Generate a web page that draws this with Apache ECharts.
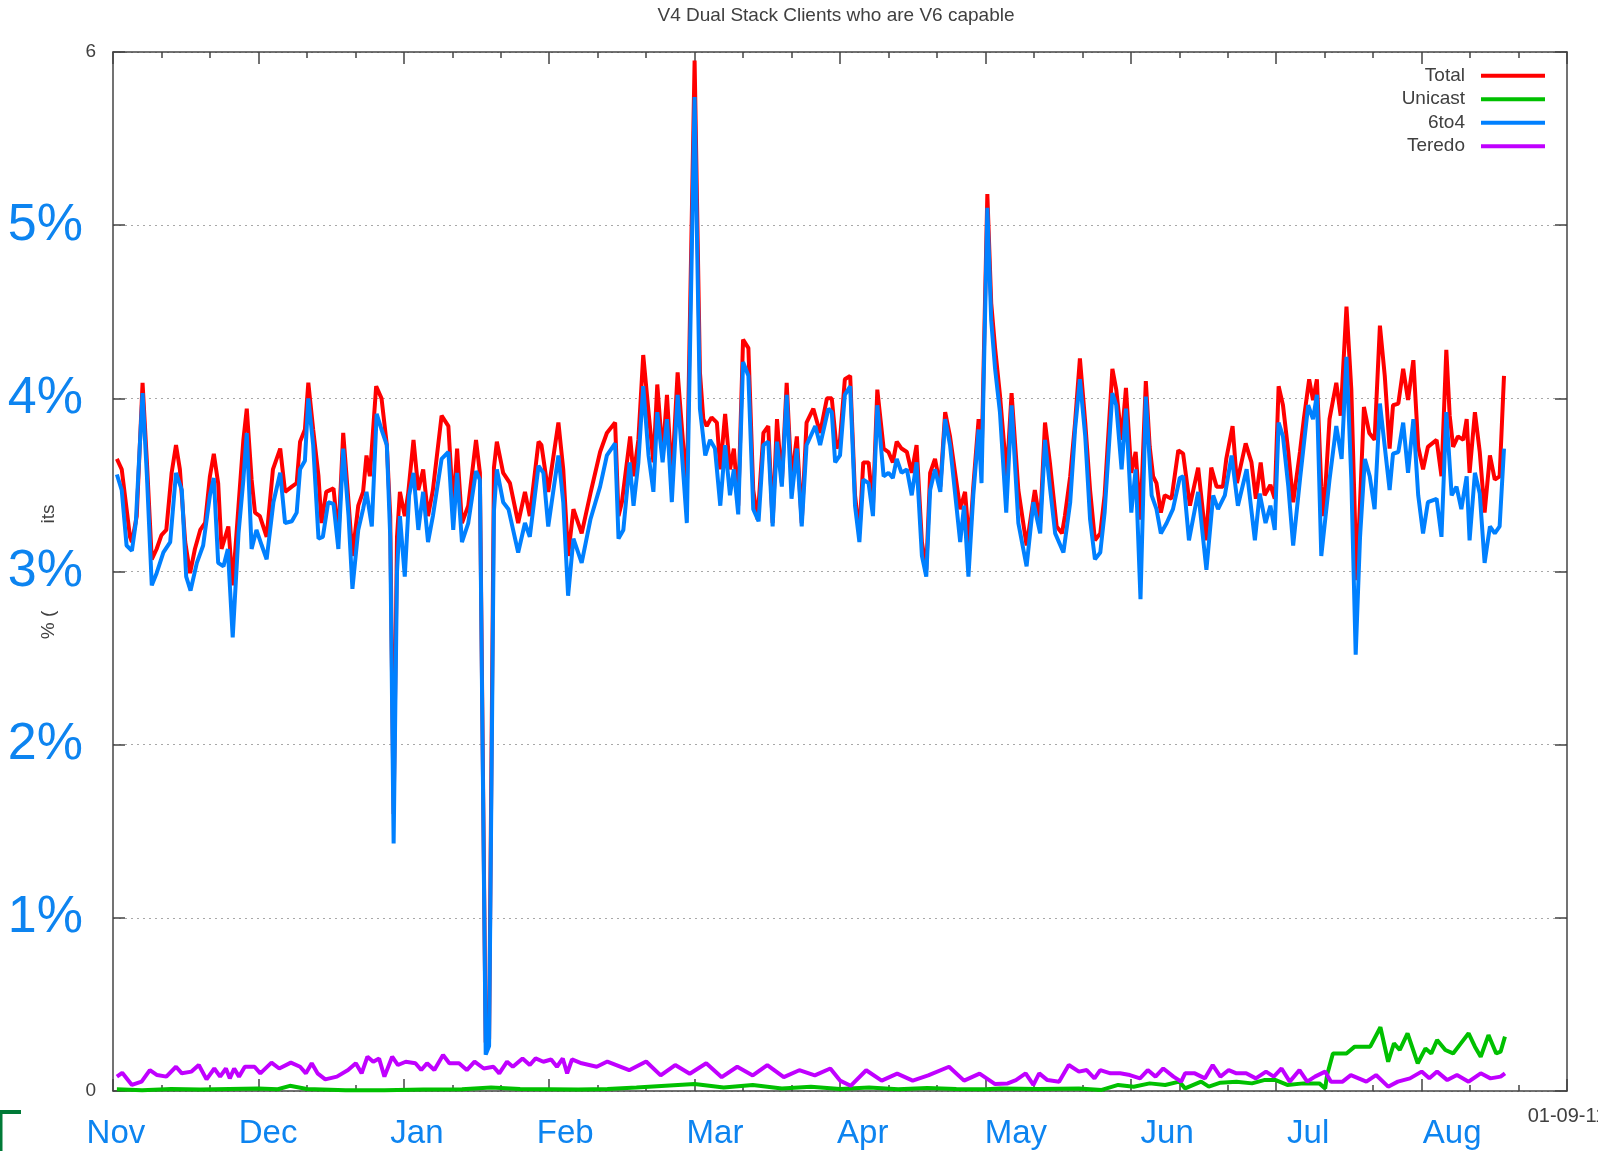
<!DOCTYPE html>
<html lang="en">
<head>
    <meta charset="utf-8">
    <title>V4 Dual Stack Clients who are V6 capable</title>
    <script type="text/javascript" src="https://cdn.jsdelivr.net/npm/echarts@6/dist/echarts.min.js"></script>
    <style type="text/css">
        html, body {
            margin: 0;
            padding: 0;
            background: #ffffff;
        }

        #main {
            width: 1618px;
            height: 1151px;
        }
    </style>
</head>
<body>
<div id="main"></div>
<script type="text/javascript">
    // x = days since start of the plot (axis runs 0..300), y = percent of clients
    var titleText = "V4 Dual Stack Clients who are V6 capable";
    var seriesNames = ["Total", "Unicast", "6to4", "Teredo"];
    var monthNames = ["Nov", "Dec", "Jan", "Feb", "Mar", "Apr", "May", "Jun", "Jul", "Aug"];
    var monthDays = [0.6, 32, 62.7, 93.3, 124.2, 154.7, 186.3, 217.5, 246.6, 276.3];
    var endLabel = "01-09-11";
    var endDay = 300;

    var total = [[0.8, 3.65], [1.8, 3.59], [3.5, 3.20], [3.9, 3.17], [4.9, 3.32], [6.1, 4.09], [7, 3.63], [8, 3.07], [9, 3.13], [10, 3.21], [11, 3.24], [12.1, 3.57], [13, 3.73], [13.8, 3.59], [14.9, 3.17], [15.9, 2.99], [16.9, 3.13], [18, 3.24], [19, 3.28], [20, 3.55], [20.8, 3.68], [21.7, 3.51], [22.4, 3.13], [23.8, 3.26], [24.7, 2.92], [25.9, 3.38], [26.9, 3.76], [27.6, 3.94], [28.6, 3.53], [29.3, 3.34], [30.3, 3.32], [31.7, 3.20], [33, 3.59], [34.5, 3.71], [35.5, 3.46], [36.9, 3.49], [37.9, 3.51], [38.6, 3.75], [39.6, 3.82], [40.3, 4.09], [41.3, 3.82], [42.4, 3.55], [43, 3.28], [44, 3.46], [45.5, 3.48], [46.5, 3.20], [47.5, 3.80], [48.6, 3.40], [49.4, 3.09], [50.6, 3.38], [51.6, 3.46], [52.3, 3.67], [53, 3.55], [54.3, 4.07], [55.4, 4.00], [56.5, 3.73], [57.2, 3.32], [57.9, 1.60], [58.6, 3.20], [59.2, 3.46], [60.2, 3.32], [60.9, 3.45], [62, 3.76], [63, 3.47], [64, 3.59], [65, 3.32], [66, 3.47], [67.8, 3.90], [69.2, 3.84], [70.2, 3.36], [71, 3.71], [72, 3.28], [73.3, 3.38], [74.9, 3.76], [75.7, 3.57], [76.9, 0.28], [77.6, 0.30], [78.6, 3.60], [79.2, 3.75], [80.5, 3.57], [81.9, 3.51], [83.6, 3.28], [85, 3.46], [86, 3.32], [87.8, 3.75], [88.4, 3.73], [89.8, 3.46], [91.9, 3.86], [92.9, 3.59], [93.9, 3.09], [95, 3.36], [96.7, 3.22], [98.5, 3.45], [100.5, 3.69],
        [101.9, 3.80], [103.6, 3.86], [104.3, 3.32], [105, 3.40], [106.7, 3.78], [107.4, 3.55], [108.4, 3.76], [109.4, 4.25], [110.5, 3.92], [111.5, 3.63], [112.3, 4.08], [113.4, 3.67], [114.3, 4.02], [115.3, 3.53], [116.5, 4.15], [117.4, 3.82], [118.4, 3.47], [120, 5.95], [121.1, 4.15], [121.8, 3.88], [122.5, 3.84], [123.5, 3.89], [124.6, 3.86], [125.3, 3.59], [126.3, 3.91], [127.3, 3.59], [128.1, 3.71], [129, 3.38], [130, 4.34], [131.1, 4.29], [132.1, 3.47], [133, 3.30], [134.2, 3.80], [135.2, 3.84], [136.1, 3.28], [137, 3.88], [138, 3.51], [139, 4.09], [140, 3.53], [141.1, 3.78], [142.1, 3.28], [143.1, 3.86], [144.5, 3.94], [145.9, 3.80], [147.3, 4.00], [148.3, 4.00], [149.3, 3.71], [150, 3.76], [151, 4.11], [152.1, 4.13], [153.1, 3.44], [154, 3.22], [154.8, 3.63], [155.9, 3.63], [156.8, 3.38], [157.7, 4.05], [159, 3.71], [160, 3.69], [160.9, 3.63], [161.7, 3.75], [162.7, 3.71], [163.8, 3.69], [164.8, 3.57], [165.8, 3.73], [166.9, 3.17], [167.8, 3.01], [168.6, 3.57], [169.6, 3.65], [170.7, 3.49], [171.7, 3.92], [172.7, 3.78], [174.8, 3.36], [175.8, 3.46], [176.7, 3.15], [177.5, 3.49], [178.6, 3.88], [179.2, 3.63], [180.4, 5.18], [181.2, 4.55], [182, 4.29], [183, 4.02], [184.4, 3.55], [185.4, 4.03], [186.8, 3.47], [188.5, 3.15], [190.2, 3.47], [191.3, 3.28], [192.3, 3.86], [193.3, 3.63], [194.7, 3.26], [195.8, 3.22], [196.4, 3.32], [197.5, 3.55], [198.5, 3.86], [199.5, 4.23], [200.6, 3.86], [201.6, 3.47], [202.6, 3.18], [203.7, 3.22],
        [204.6, 3.44], [206.2, 4.17], [207, 4.05], [208.1, 3.76], [209, 4.06], [210.1, 3.57], [211, 3.69], [212, 3.30], [213.1, 4.10], [213.9, 3.72], [214.6, 3.55], [215.3, 3.51], [216.2, 3.34], [217, 3.44], [218.4, 3.42], [219.8, 3.70], [220.8, 3.68], [222.2, 3.38], [223.9, 3.60], [225.5, 3.18], [226.6, 3.60], [227.7, 3.49], [229, 3.49], [229.7, 3.65], [231, 3.84], [231.9, 3.51], [233.7, 3.74], [234.9, 3.63], [235.8, 3.42], [236.8, 3.63], [237.6, 3.44], [238.8, 3.50], [239.7, 3.42], [240.5, 4.07], [241.4, 3.96], [242.5, 3.69], [243.5, 3.40], [244.9, 3.69], [245.7, 3.88], [246.8, 4.11], [247.6, 3.99], [248.4, 4.11], [249.3, 3.49], [249.8, 3.32], [251, 3.88], [252.4, 4.09], [253.3, 3.90], [254.5, 4.53], [255.5, 4.05], [256.6, 2.95], [257.3, 3.40], [258.1, 3.95], [259.2, 3.80], [260.3, 3.76], [261.4, 4.42], [262.4, 4.13], [263.4, 3.71], [264.1, 3.96], [265.2, 3.97], [266.2, 4.17], [267.2, 3.99], [268.3, 4.22], [269.3, 3.72], [270.3, 3.59], [271.3, 3.72], [273.1, 3.76], [274.1, 3.55], [275.1, 4.28], [275.8, 3.90], [276.5, 3.72], [277.5, 3.78], [278.6, 3.76], [279.3, 3.88], [279.9, 3.57], [281, 3.92], [282, 3.69], [283, 3.34], [284.1, 3.67], [285.1, 3.53], [286.1, 3.55], [287, 4.13]];

    var unicast = [[0.8, 0.010], [6, 0.005], [12, 0.012], [18, 0.008], [24, 0.012], [30, 0.015], [34, 0.010], [36.5, 0.030], [40, 0.012], [48, 0.005], [56, 0.004], [64, 0.008], [72, 0.010], [78, 0.020], [84, 0.012], [90, 0.010], [96, 0.008], [102, 0.012], [108, 0.020], [114, 0.030], [120, 0.040], [126, 0.020], [132, 0.035], [138, 0.015], [144, 0.025], [150, 0.012], [156, 0.020], [162, 0.010], [168, 0.018], [174, 0.012], [180, 0.010], [183, 0.015], [191, 0.012], [199.3, 0.015], [204, 0.006], [207.4, 0.035], [210.6, 0.025], [213.9, 0.044], [217.1, 0.035], [220, 0.054], [221.2, 0.015], [224.5, 0.054], [226.1, 0.025], [228.5, 0.048], [231.8, 0.054], [235, 0.044], [237.5, 0.063], [239.9, 0.063], [242.3, 0.035], [245.6, 0.044], [248.9, 0.044], [250.1, 0.015], [250.5, 0.092], [251.7, 0.217], [254.5, 0.217], [256.2, 0.256], [259.4, 0.256], [261.5, 0.368], [263.1, 0.169], [264.3, 0.275], [265.5, 0.237], [267.1, 0.333], [269.2, 0.160], [270.8, 0.246], [272, 0.217], [273.2, 0.294], [274.9, 0.237], [276.5, 0.217], [278.1, 0.275], [279.7, 0.333], [281, 0.256], [282.2, 0.198], [283.8, 0.323], [285.4, 0.217], [286.3, 0.227], [287.2, 0.314]];

    var sixToFour = [[0.8, 3.56], [1.8, 3.47], [2.8, 3.15], [3.9, 3.12], [4.7, 3.28], [6.1, 4.03], [7, 3.55], [8, 2.92], [9, 2.99], [10.4, 3.11], [11.8, 3.17], [13, 3.57], [14.2, 3.47], [15.1, 2.97], [16, 2.89], [17.3, 3.05], [18.6, 3.15], [20, 3.44], [20.8, 3.54], [21.7, 3.05], [22.8, 3.03], [23.7, 3.13], [24.7, 2.62], [25.9, 3.22], [26.9, 3.53], [27.6, 3.80], [28.6, 3.13], [29.6, 3.24], [30.7, 3.15], [31.7, 3.07], [33.1, 3.40], [34.5, 3.57], [35.5, 3.28], [36.9, 3.29], [37.9, 3.34], [38.6, 3.59], [39.6, 3.64], [40.3, 4.00], [41.3, 3.73], [42.4, 3.19], [43.3, 3.20], [44.4, 3.40], [45.5, 3.39], [46.5, 3.13], [47.5, 3.71], [48.6, 3.32], [49.4, 2.90], [50.6, 3.24], [51.6, 3.36], [52.3, 3.46], [53.4, 3.26], [54.4, 3.91], [55.4, 3.82], [56.5, 3.73], [57.2, 3.20], [57.9, 1.43], [58.6, 3.00], [59.2, 3.32], [60.2, 2.97], [61.1, 3.44], [62, 3.57], [63, 3.24], [64, 3.46], [65, 3.17], [66, 3.32], [67.8, 3.65], [69.2, 3.69], [70.2, 3.24], [71, 3.57], [72, 3.17], [73.3, 3.28], [74.9, 3.58], [75.7, 3.53], [76.9, 0.21], [77.6, 0.26], [78.6, 3.35], [79.2, 3.59], [80.5, 3.40], [81.6, 3.36], [83.6, 3.11], [85, 3.28], [86, 3.20], [87.8, 3.61], [88.8, 3.57], [89.8, 3.26], [91.9, 3.67], [92.9, 3.40], [93.9, 2.86], [95, 3.19], [96.7, 3.05], [98.5, 3.30], [100.5, 3.49],
        [101.9, 3.67], [103.6, 3.74], [104.3, 3.19], [105.3, 3.24], [106.6, 3.63], [107.4, 3.38], [108.4, 3.63], [109.4, 4.07], [110.5, 3.67], [111.5, 3.46], [112.3, 3.92], [113.4, 3.63], [114.3, 3.88], [115.3, 3.40], [116.5, 4.02], [117.4, 3.67], [118.4, 3.28], [120, 5.74], [121.1, 3.94], [122.2, 3.67], [123.2, 3.76], [124.2, 3.71], [125.3, 3.38], [126.3, 3.73], [127.3, 3.44], [128.1, 3.59], [129, 3.33], [130, 4.21], [131.1, 4.13], [132.1, 3.36], [133.2, 3.29], [134.2, 3.73], [135.2, 3.75], [136.1, 3.26], [137, 3.75], [138, 3.49], [139, 4.02], [140, 3.42], [141.1, 3.71], [142.1, 3.26], [143.1, 3.73], [144.9, 3.84], [145.9, 3.73], [147.6, 3.94], [148.3, 3.92], [149, 3.63], [150, 3.67], [151, 4.02], [152.1, 4.07], [153.1, 3.38], [154, 3.17], [154.8, 3.53], [155.9, 3.51], [156.8, 3.32], [157.7, 3.96], [159, 3.55], [160, 3.57], [160.9, 3.54], [161.7, 3.65], [162.7, 3.57], [163.8, 3.59], [164.8, 3.44], [165.8, 3.63], [166.9, 3.09], [167.8, 2.97], [168.6, 3.47], [169.6, 3.59], [170.7, 3.46], [171.7, 3.88], [172.7, 3.73], [174.8, 3.17], [175.6, 3.38], [176.5, 2.97], [177.5, 3.44], [178.6, 3.82], [179.2, 3.51], [180.4, 5.10], [181.2, 4.45], [182, 4.17], [183, 3.92], [184.3, 3.34], [185.4, 3.96], [186.8, 3.28], [188.5, 3.03], [189.9, 3.40], [191.3, 3.22], [192.3, 3.76], [193.3, 3.49], [194.4, 3.22], [196.1, 3.11], [197.5, 3.40], [198.5, 3.82], [199.5, 4.11], [200.6, 3.78], [201.6, 3.30], [202.6, 3.07], [203.7, 3.11],
        [204.6, 3.34], [206.2, 4.03], [207, 3.96], [208.1, 3.59], [209, 3.94], [210.1, 3.34], [211, 3.59], [212, 2.84], [213.1, 4.01], [214.3, 3.44], [215.3, 3.36], [216.2, 3.22], [217.4, 3.28], [218.7, 3.36], [220.1, 3.54], [220.8, 3.55], [222, 3.18], [223.9, 3.46], [225.6, 3.01], [227, 3.44], [228, 3.36], [229.4, 3.44], [230.8, 3.67], [232.1, 3.38], [233.9, 3.59], [235.6, 3.18], [236.6, 3.45], [237.8, 3.28], [238.8, 3.38], [239.7, 3.24], [240.5, 3.86], [241.4, 3.78], [242.5, 3.49], [243.5, 3.15], [244.9, 3.53], [246.6, 3.96], [247.6, 3.88], [248.4, 4.02], [249.3, 3.09], [251, 3.53], [252.4, 3.84], [253.5, 3.65], [254.5, 4.24], [255.5, 3.53], [256.4, 2.52], [257.3, 3.20], [258.3, 3.65], [259.3, 3.55], [260.3, 3.36], [261.4, 3.97], [262.4, 3.72], [263.4, 3.47], [264.1, 3.68], [265.2, 3.69], [266.2, 3.86], [267.2, 3.57], [268.3, 3.88], [269.3, 3.44], [270.3, 3.22], [271.3, 3.40], [273.1, 3.42], [274.1, 3.20], [275.1, 3.92], [276.2, 3.44], [277.2, 3.49], [278.2, 3.36], [279.3, 3.55], [279.9, 3.18], [281, 3.57], [282, 3.45], [283, 3.05], [284.1, 3.26], [285.1, 3.22], [286.1, 3.26], [287, 3.71]];

    var teredo = [[0.8, 0.083], [1.9, 0.105], [3.9, 0.035], [5.9, 0.054], [7.6, 0.121], [9.1, 0.092], [11, 0.083], [13, 0.140], [14.2, 0.102], [16.2, 0.112], [17.7, 0.150], [19.3, 0.067], [20.9, 0.130], [22.1, 0.083], [23.3, 0.130], [24.1, 0.073], [25, 0.130], [26, 0.083], [27.2, 0.140], [29.2, 0.140], [30.4, 0.102], [32.7, 0.164], [34.3, 0.130], [36.7, 0.164], [38.6, 0.140], [39.8, 0.102], [41, 0.160], [42.2, 0.102], [43.8, 0.067], [46.2, 0.083], [48.5, 0.121], [50.1, 0.160], [51.3, 0.102], [52.5, 0.198], [53.7, 0.169], [54.9, 0.188], [56, 0.083], [57.6, 0.198], [58.8, 0.150], [60.4, 0.169], [62.4, 0.160], [63.6, 0.121], [64.8, 0.160], [66.3, 0.121], [68.1, 0.208], [69.4, 0.160], [71.4, 0.160], [73, 0.121], [74.6, 0.169], [76.5, 0.130], [78.5, 0.140], [79.7, 0.102], [81.3, 0.169], [82.5, 0.140], [84.5, 0.188], [86, 0.150], [87.2, 0.188], [88.8, 0.169], [90.4, 0.182], [91.6, 0.140], [92.8, 0.188], [93.7, 0.102], [94.7, 0.182], [96.7, 0.160], [99.8, 0.140], [102, 0.170], [106.5, 0.120], [110, 0.170], [113, 0.090], [116, 0.150], [119, 0.100], [122.4, 0.160], [125.6, 0.080], [128.8, 0.140], [132, 0.090], [135, 0.150], [138.4, 0.080], [141.6, 0.120], [144.8, 0.090], [148, 0.130], [150, 0.060], [152.2, 0.030], [155.4, 0.120], [158.6, 0.060], [161.8, 0.100], [165, 0.060], [168.2, 0.090], [172.5, 0.140], [175.6, 0.060], [178.8, 0.100], [182, 0.040], [184.6, 0.044], [186.3, 0.063], [188.3, 0.102], [189.9, 0.035], [191.1, 0.102], [192.8, 0.063], [195.2, 0.054], [197.2, 0.150], [199.3, 0.112], [200.9, 0.121], [202.5, 0.073], [203.7, 0.121], [205.8, 0.102], [207.8, 0.102], [209.8, 0.092], [211.9, 0.073], [213.5, 0.121], [215.1, 0.083], [216.7, 0.130], [218.8, 0.083], [220.4, 0.054], [221.2, 0.102], [223.2, 0.102], [225.3, 0.073], [226.9, 0.150], [228.5, 0.083], [230.2, 0.121], [231.8, 0.102], [233.8, 0.102], [235.8, 0.073], [237.9, 0.112], [239.5, 0.083], [241.1, 0.130], [242.8, 0.054], [244.8, 0.121], [246.4, 0.054], [248, 0.083], [250.1, 0.112], [251.3, 0.054], [253.7, 0.054], [255.4, 0.092], [257, 0.073], [258.6, 0.054], [260.6, 0.092], [263.1, 0.025], [265.1, 0.054], [267.6, 0.073], [270, 0.112], [271.6, 0.073], [273.2, 0.112], [275.3, 0.063], [277.3, 0.092], [279.7, 0.054], [282.2, 0.102], [284.2, 0.073], [286.3, 0.083], [287.2, 0.102]];

    var colors = ["#ff0000", "#00c000", "#0080ff", "#c000ff"];
    var font = "'Liberation Sans', Arial, sans-serif";
    var textGray = "#404040";
    var frame = "#444444";
    var labelBlue = "#0d84f0";

    var myChart = echarts.init(document.getElementById('main'));

    function lineSeries(i, data) {
        return {
            name: seriesNames[i],
            type: "line",
            data: data,
            showSymbol: false,
            symbol: "none",
            clip: false,
            lineStyle: {color: colors[i], width: 4},
            itemStyle: {color: colors[i]}
        };
    }

    function frameAxis(extra) {
        var base = {
            axisLine: {show: true, onZero: false, lineStyle: {color: frame, width: 1.5}},
            axisTick: {show: true, inside: true, length: 12, lineStyle: {color: frame, width: 1.5}},
            splitLine: {show: false}
        };
        for (var k in extra) base[k] = extra[k];
        return base;
    }

    var option = {
        animation: false,
        backgroundColor: "#ffffff",
        grid: {left: 113, right: 51, top: 52, bottom: 60, outerBoundsMode: "none"},
        legend: {
            data: seriesNames,
            orient: "vertical",
            right: 68,
            top: 59,
            align: "right",
            icon: "rect",
            itemWidth: 64,
            itemHeight: 4,
            itemGap: 0,
            selectedMode: false,
            textStyle: {fontFamily: font, fontSize: 19, color: textGray, lineHeight: 23.5, padding: [0, 11, 0, 0]}
        },
        xAxis: [
            frameAxis({
                type: "value", min: 0, max: endDay, interval: 30, position: "bottom",
                minorTick: {show: true, splitNumber: 3, length: 6, lineStyle: {color: frame, width: 1.5}},
                axisLabel: {
                    customValues: monthDays.concat([endDay]),
                    margin: 15,
                    hideOverlap: false,
                    formatter: function (v) {
                        var i = monthDays.indexOf(v);
                        return i >= 0 ? "{m|" + monthNames[i] + "}" : "{d|" + endLabel + "}";
                    },
                    rich: {
                        m: {fontFamily: font, fontSize: 33, lineHeight: 34, color: labelBlue, padding: [21, 0, 0, 0]},
                        d: {fontFamily: font, fontSize: 20, lineHeight: 20, color: textGray}
                    }
                }
            }),
            frameAxis({
                type: "value", min: 0, max: endDay, interval: 30, position: "top",
                minorTick: {show: true, splitNumber: 3, length: 6, lineStyle: {color: frame, width: 1.5}},
                axisLabel: {show: false}
            })
        ],
        yAxis: [
            frameAxis({
                type: "value", min: 0, max: 6, interval: 1, position: "left",
                splitLine: {show: true, lineStyle: {color: "#a8a8a8", width: 1, type: [2, 4]}},
                axisLabel: {
                    margin: 17,
                    formatter: function (v) {
                        return (v === 0 || v === 6) ? "{s|" + v + "}" : "{b|" + v + "%}";
                    },
                    rich: {
                        s: {fontFamily: font, fontSize: 19, color: textGray},
                        b: {fontFamily: font, fontSize: 52, color: labelBlue, padding: [0, 13, 0, 0]}
                    }
                }
            }),
            frameAxis({
                type: "value", min: 0, max: 6, interval: 1, position: "right",
                axisLabel: {show: false}
            })
        ],
        graphic: [
            {
                type: "text", x: 836, y: 16, z: 10,
                style: {text: titleText, fontFamily: font, fontSize: 19, fill: textGray, align: "center", verticalAlign: "middle"}
            },
            // pieces of the y axis title that show round the big 3% label
            {
                type: "text", x: 49, y: 514, rotation: Math.PI / 2, z: 10,
                style: {text: "its", fontFamily: font, fontSize: 19, fill: textGray, align: "center", verticalAlign: "middle"}
            },
            {
                type: "text", x: 49, y: 625, rotation: Math.PI / 2, z: 10,
                style: {text: "% (", fontFamily: font, fontSize: 19, fill: textGray, align: "center", verticalAlign: "middle"}
            },
            // corner mark bottom left
            {type: "rect", shape: {x: 0, y: 1110, width: 21, height: 4}, style: {fill: "#007a37"}, z: 10},
            {type: "rect", shape: {x: 0, y: 1110, width: 2.5, height: 41}, style: {fill: "#007a37"}, z: 10},
            // the date label is cut off at the right
            {type: "rect", shape: {x: 1598, y: 1100, width: 20, height: 30}, style: {fill: "#ffffff"}, z: 100}
        ],
        series: [
            lineSeries(0, total),
            lineSeries(1, unicast),
            lineSeries(2, sixToFour),
            lineSeries(3, teredo)
        ]
    };

    myChart.setOption(option);
</script>
</body>
</html>
